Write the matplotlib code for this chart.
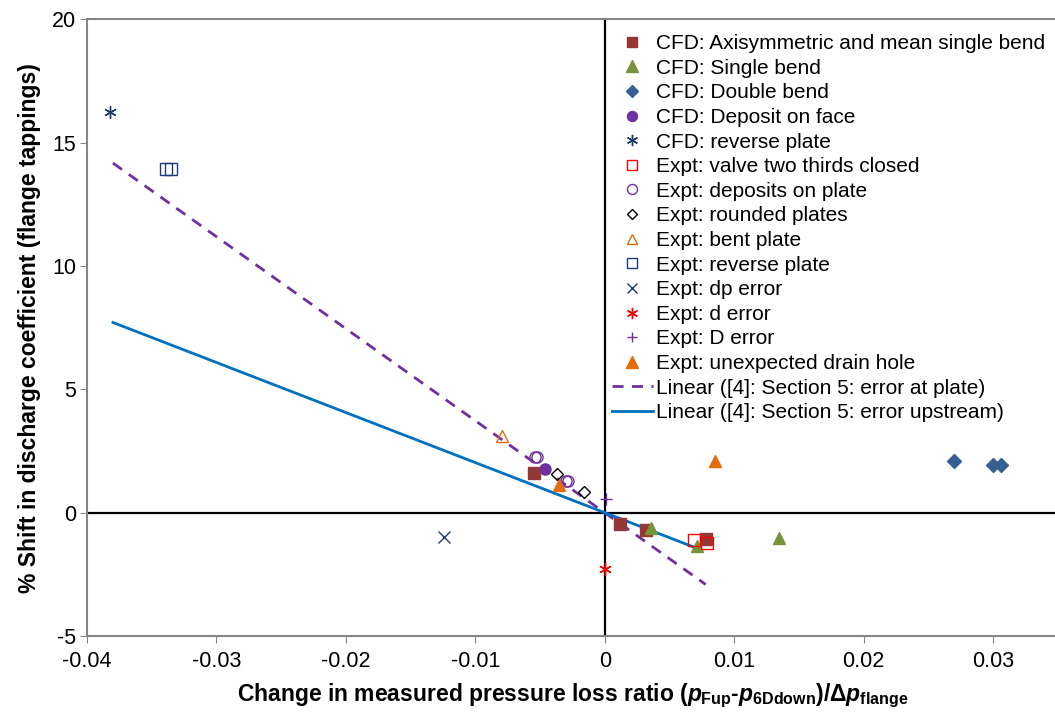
import matplotlib
matplotlib.use("Agg")
import matplotlib.pyplot as plt
from matplotlib.lines import Line2D

plt.rcParams["font.family"] = ["Liberation Sans", "DejaVu Sans"]
plt.rcParams["axes.unicode_minus"] = False
plt.rcParams["mathtext.fontset"] = "custom"
plt.rcParams["mathtext.it"] = "Liberation Sans:italic:bold"
plt.rcParams["mathtext.rm"] = "Liberation Sans:bold"
plt.rcParams["mathtext.bf"] = "Liberation Sans:bold"

# CFD series
cfd_axi_x = [-0.0055, 0.0012, 0.0032, 0.0078]
cfd_axi_y = [1.60, -0.45, -0.69, -1.05]
cfd_single_x = [0.0036, 0.0071, 0.0135]
cfd_single_y = [-0.62, -1.34, -1.03]
cfd_double_x = [0.0270, 0.0300, 0.0306]
cfd_double_y = [2.08, 1.94, 1.94]
cfd_deposit_x = [-0.0046]
cfd_deposit_y = [1.77]
cfd_reverse_x = [-0.0382]
cfd_reverse_y = [16.25]

# experimental series
ex_valve_x = [0.0069, 0.0079]
ex_valve_y = [-1.12, -1.23]
ex_deposits_x = [-0.0054, -0.0052, -0.0030, -0.0028]
ex_deposits_y = [2.25, 2.25, 1.30, 1.30]
ex_rounded_x = [-0.0037, -0.0016]
ex_rounded_y = [1.58, 0.84]
ex_bent_x = [-0.0079]
ex_bent_y = [3.12]
ex_reverse_x = [-0.0339, -0.0335]
ex_reverse_y = [13.93, 13.93]
ex_dp_x = [-0.0124]
ex_dp_y = [-0.97]
ex_d_x = [0.0000]
ex_d_y = [-2.28]
ex_D_x = [0.0001]
ex_D_y = [0.57]
ex_drain_x = [-0.0035, 0.0085]
ex_drain_y = [1.13, 2.08]

# trend lines (end points)
fit_plate_x = [-0.0380, 0.0078]
fit_plate_y = [14.17, -2.91]
fit_up_x = [-0.0380, 0.0071]
fit_up_y = [7.71, -1.44]

labels = [
    "CFD: Axisymmetric and mean single bend",
    "CFD: Single bend",
    "CFD: Double bend",
    "CFD: Deposit on face",
    "CFD: reverse plate",
    "Expt: valve two thirds closed",
    "Expt: deposits on plate",
    "Expt: rounded plates",
    "Expt: bent plate",
    "Expt: reverse plate",
    "Expt: dp error",
    "Expt: d error",
    "Expt: D error",
    "Expt: unexpected drain hole",
    "Linear ([4]: Section 5: error at plate)",
    "Linear ([4]: Section 5: error upstream)",
]

star = (6, 2, 0)
# (x, y, marker, face, edge, size)
series = [
    (cfd_axi_x, cfd_axi_y, "s", "#953735", "#953735", 8),
    (cfd_single_x, cfd_single_y, "^", "#77933C", "#77933C", 9),
    (cfd_double_x, cfd_double_y, "D", "#376092", "#376092", 7),
    (cfd_deposit_x, cfd_deposit_y, "o", "#7030A0", "#7030A0", 8),
    (cfd_reverse_x, cfd_reverse_y, star, "none", "#1F3A6E", 9),
    (ex_valve_x, ex_valve_y, "s", "none", "#FF0000", 8),
    (ex_deposits_x, ex_deposits_y, "o", "none", "#7030A0", 8),
    (ex_rounded_x, ex_rounded_y, "D", "none", "#000000", 6),
    (ex_bent_x, ex_bent_y, "^", "none", "#E46C0A", 8),
    (ex_reverse_x, ex_reverse_y, "s", "none", "#1F3A78", 8),
    (ex_dp_x, ex_dp_y, "x", "none", "#1F3A78", 8),
    (ex_d_x, ex_d_y, star, "none", "#FF0000", 9),
    (ex_D_x, ex_D_y, "+", "none", "#7030A0", 8),
    (ex_drain_x, ex_drain_y, "^", "#E46C0A", "#E46C0A", 9),
]

fig = plt.figure(figsize=(10.55, 7.13), dpi=100)
ax = fig.add_axes([0.0825, 0.108, 0.92, 0.865])

ax.axhline(0, color="black", lw=1.6, zorder=1)
ax.axvline(0, color="black", lw=1.6, zorder=1)

handles = []
for (x, y, m, fc, ec, ms) in series:
    ax.plot(x, y, linestyle="none", marker=m, markerfacecolor=fc,
            markeredgecolor=ec, markersize=ms, markeredgewidth=1.0, zorder=3)
    handles.append(Line2D([], [], linestyle="none", marker=m, markerfacecolor=fc,
                          markeredgecolor=ec, markersize=ms * 0.9, markeredgewidth=1.0))

ax.plot(fit_plate_x, fit_plate_y, color="#7030A0", lw=2, dashes=(4, 3), zorder=2)
ax.plot(fit_up_x, fit_up_y, color="#0070C0", lw=2, zorder=2)
handles.append(Line2D([], [], color="#7030A0", lw=2, dashes=(4, 3)))
handles.append(Line2D([], [], color="#0070C0", lw=2))

ax.set_xlim(-0.04, 0.035)
ax.set_ylim(-5, 20)
ax.set_xticks([-0.04, -0.03, -0.02, -0.01, 0, 0.01, 0.02, 0.03])
ax.set_xticklabels(["-0.04", "-0.03", "-0.02", "-0.01", "0", "0.01", "0.02", "0.03"])
ax.set_yticks([-5, 0, 5, 10, 15, 20])
ax.tick_params(axis="both", labelsize=15.5, direction="out", length=5, color="#868686")
ax.tick_params(axis="x", pad=6)
ax.tick_params(axis="y", pad=3)
for s in ax.spines.values():
    s.set_color("#868686")
    s.set_linewidth(1.5)

ax.set_xlabel(r"Change in measured pressure loss ratio ($p_{\mathrm{Fup}}$-$p_{\mathrm{6Ddown}}$)/$\Delta p_{\mathrm{flange}}$",
              fontweight="bold", fontsize=16.5, labelpad=7)
ax.set_ylabel("% Shift in discharge coefficient (flange tappings)",
              fontweight="bold", fontsize=16.5, labelpad=8)

fig.legend(handles, labels, loc="upper left", bbox_to_anchor=(612 / 1055, 1 - 34 / 713),
           frameon=False, fontsize=15, borderpad=0, borderaxespad=0,
           handlelength=1.95, handletextpad=0.15, labelspacing=0.27)

fig.savefig("out.png", dpi=100)
